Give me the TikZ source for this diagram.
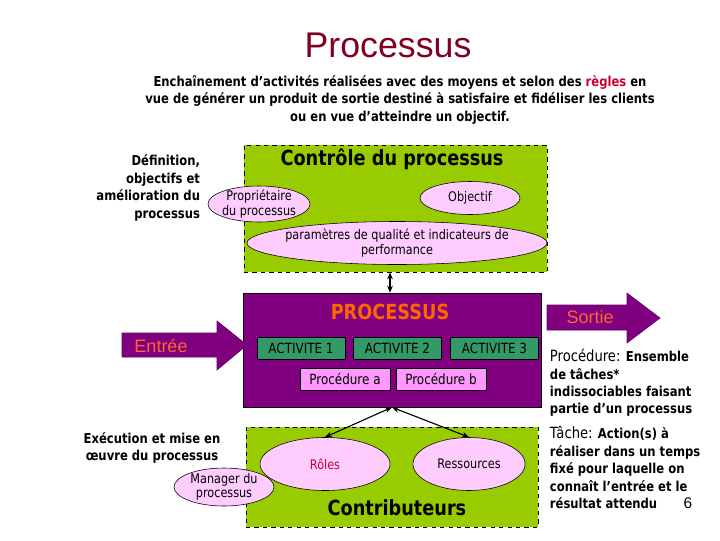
\documentclass[tikz,border=0pt]{standalone}
\usepackage{fontspec}
\setmainfont{DejaVu Sans}[FakeStretch=0.85]
\newfontfamily\arl{Liberation Sans}
\usepackage{xcolor}
\definecolor{titlered}{RGB}{128,0,32}
\definecolor{regred}{RGB}{204,0,51}
\definecolor{ctrlgreen}{RGB}{153,204,0}
\definecolor{procpurple}{RGB}{128,0,128}
\definecolor{actgreen}{RGB}{51,153,102}
\definecolor{ellpink}{RGB}{255,204,255}
\definecolor{boxpink}{RGB}{255,153,255}
\definecolor{procorange}{RGB}{255,102,0}
\definecolor{flowcoral}{RGB}{255,102,51}
\usetikzlibrary{arrows.meta,positioning,shapes.geometric,fit,calc}

\begin{document}
\begin{tikzpicture}[x=0.025cm, y=-0.025cm,
    zone/.style={rectangle, draw=black, dashed, fill=ctrlgreen, inner sep=0pt},
    purplebox/.style={rectangle, draw=black, thin, fill=procpurple, inner sep=0pt},
    ell/.style={ellipse, draw=black, fill=ellpink, inner xsep=-0.4cm, inner ysep=-0.12cm, align=center,
      font=\fontsize{9.4}{10.3}\selectfont},
    activ/.style={rectangle, draw=black, fill=actgreen, minimum width=2.2cm, minimum height=0.55cm,
      inner sep=0pt, font=\fontsize{10}{11}\selectfont},
    procbox/.style={rectangle, draw=black, fill=boxpink, minimum width=2.25cm, minimum height=0.55cm,
      inner sep=0pt, font=\fontsize{10}{11}\selectfont},
    flow/.style={fill=procpurple, draw=procpurple!80!black},
    flowtxt/.style={text=flowcoral, font=\arl\fontsize{12.8}{14}\selectfont},
    bold/.style={font=\bfseries\fontsize{9.7}{12.4}\selectfont},
    head/.style={font=\bfseries\fontsize{14.8}{16}\selectfont},
    dblarr/.style={{Stealth[length=5pt,width=4pt]}-{Stealth[length=5pt,width=4pt]}, thick}
  ]
    \useasboundingbox[fill=white] (0,0) rectangle (720,540);
    % Title and definition
    \node[font=\arl\fontsize{25.4}{28}\selectfont, text=titlered] (title) at (388,45) {Processus};
    \node[bold, align=center] (defn) at (400,100)
      {Enchaînement d’activités réalisées avec des moyens et selon des \textcolor{regred}{règles} en\\
       vue de générer un produit de sortie destiné à satisfaire et fidéliser les clients\\
       ou en vue d’atteindre un objectif.};
    % Control zone
    \node[zone, fit={(244,145) (547,272)}] (ctrl) {};
    \node[head] (ctrltitle) at (392,159) {Contrôle du processus};
    \node[bold, align=right, anchor=east] (defleft) at (205,188)
      {Définition,\\objectifs et\\amélioration du\\processus};
    \node[ell, minimum width=2.55cm, minimum height=0.9cm] (owner) at (259,204)
      {Propriétaire\\du processus};
    \node[ell, minimum width=2.5cm, minimum height=0.825cm] (goal) at (470,198) {Objectif};
    \node[ell, minimum width=7.5cm, minimum height=1.075cm] (kpi) at (397,243)
      {paramètres de qualité et indicateurs de\\performance};
    % Process block
    \node[purplebox, fit={(243,293) (541,407)}] (proc) {};
    \node[head, text=procorange] (proctitle) at (390,312) {PROCESSUS};
    \node[activ] (act1) at (301,348) {ACTIVITE 1};
    \node[activ] (act2) at (397.5,348) {ACTIVITE 2};
    \node[activ] (act3) at (494.5,348) {ACTIVITE 3};
    \node[procbox] (proca) at (345,379) {Procédure a};
    \node[procbox] (procb) at (441,379) {Procédure b};
    % Input / output arrows
    \fill[flow] (122,333) -- (217,333) -- (217,321) -- (247,345) -- (217,370)
      -- (217,357) -- (122,357) -- cycle;
    \node[flowtxt] (entree) at (161,346) {Entrée};
    \fill[flow] (547,305) -- (627,305) -- (627,293) -- (660,318) -- (627,343)
      -- (627,330) -- (547,330) -- cycle;
    \node[flowtxt] (sortie) at (590,317) {Sortie};
    % Side notes
    \node[bold, align=left, anchor=west] (noteproc) at (545,383)
      {{\mdseries\fontsize{11}{12.4}\selectfont Procédure:} Ensemble\\de tâches*\\
       indissociables faisant\\partie d’un processus};
    \node[bold, align=left, anchor=west] (notetask) at (545,467.5)
      {{\mdseries\fontsize{11}{12.4}\selectfont Tâche:} Action(s) à\\réaliser dans un temps\\
       fixé pour laquelle on\\connaît l’entrée et le\\résultat attendu};
    \node[font=\arl\fontsize{11}{13}\selectfont] (pagenum) at (688,503) {6};
    % Contributors zone
    \node[zone, fit={(246,427) (538,527)}] (contrib) {};
    \node[head] (contribtitle) at (397,508) {Contributeurs};
    \node[bold, align=center] (execleft) at (152,448)
      {Exécution et mise en\\œuvre du processus};
    \node[ell, minimum width=3.25cm, minimum height=1.325cm, text=regred] (roles) at (325,464) {Rôles};
    \node[ell, minimum width=2.8cm, minimum height=1.325cm] (ress) at (469,464) {Ressources};
    \node[ell, minimum width=2.5cm, minimum height=0.95cm] (manager) at (224,487)
      {Manager du\\processus};
    % Links
    \draw[dblarr] (ctrl.south -| 390,0) -- (proc.north -| 390,0);
    \draw[dblarr] (proc.south) -- (roles.north);
    \draw[dblarr] (proc.south) -- (ress.north);
  \end{tikzpicture}
\end{document}
